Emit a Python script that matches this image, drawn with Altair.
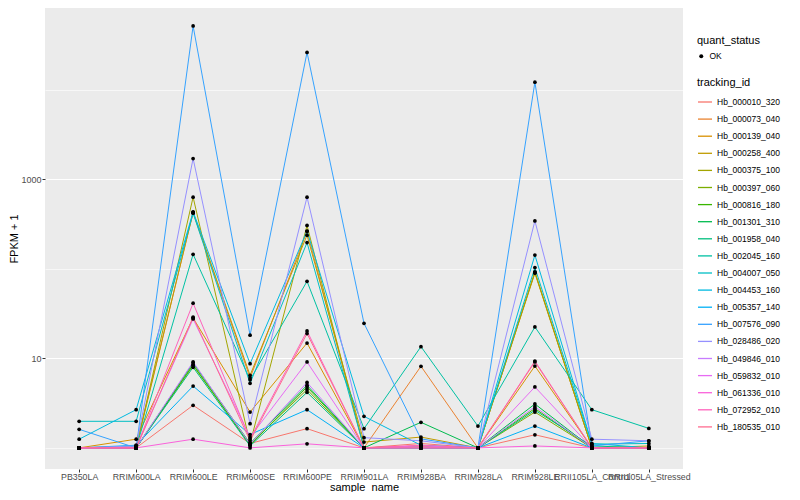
import altair as alt
import pandas as pd

samples = ["PB350LA", "RRIM600LA", "RRIM600LE", "RRIM600SE", "RRIM600PE",
           "RRIM901LA", "RRIM928BA", "RRIM928LA", "RRIM928LE",
           "RRII105LA_Control", "RRII105LA_Stressed"]

genes = ["Hb_000010_320", "Hb_000073_040", "Hb_000139_040", "Hb_000258_400",
         "Hb_000375_100", "Hb_000397_060", "Hb_000816_180", "Hb_001301_310",
         "Hb_001958_040", "Hb_002045_160", "Hb_004007_050", "Hb_004453_160",
         "Hb_005357_140", "Hb_007576_090", "Hb_028486_020", "Hb_049846_010",
         "Hb_059832_010", "Hb_061336_010", "Hb_072952_010", "Hb_180535_010"]

colors = ["#F8766D", "#EA8331", "#D89000", "#C09B00", "#A3A500", "#7CAE00",
          "#39B600", "#00BB4E", "#00BF7D", "#00C1A3", "#00BFC4", "#00BAE0",
          "#00B0F6", "#35A2FF", "#9590FF", "#C77CFF", "#E76BF3", "#FA62DB",
          "#FF62BC", "#FF6C91"]

# FPKM + 1 per sample (order as in `samples`)
hb_000010_320 = [1, 1, 2.99, 1.12, 1.64, 1, 1.12, 1, 1.40, 1, 1]
hb_000073_040 = [1, 1.05, 422, 6.03, 262, 1, 8.15, 1, 91.2, 1, 1]
hb_000139_040 = [1, 1.25, 28.2, 2.51, 14.8, 1, 1.05, 1, 8.20, 1, 1]
hb_000258_400 = [1, 1, 427, 6.46, 237, 1.16, 1.32, 1, 89.1, 1, 1.05]
hb_000375_100 = [1, 1, 630, 1.12, 304, 1, 1.05, 1, 92.3, 1, 1]
hb_000397_060 = [1, 1, 8.32, 1.10, 4.47, 1, 1, 1, 2.51, 1, 1]
hb_000816_180 = [1, 1, 8.51, 1.07, 4.79, 1, 1, 1, 2.75, 1, 1]
hb_001301_310 = [1, 1, 8.91, 1.12, 5.01, 1, 1.93, 1, 3.09, 1, 1]
hb_001958_040 = [1, 1, 7.94, 1.05, 4.17, 1, 1, 1, 2.63, 1.05, 1]
hb_002045_160 = [1, 1, 145, 5.75, 72.4, 1.64, 13.5, 1.75, 22.4, 2.67, 1.65]
hb_004007_050 = [1.98, 1.98, 417, 5.25, 196, 1, 1, 1, 103, 1.10, 1.12]
hb_004453_160 = [1.25, 2.67, 432, 8.71, 263, 2.25, 1.07, 1, 142, 1.12, 1]
hb_005357_140 = [1, 1.07, 4.90, 1.41, 2.67, 1, 1, 1, 1.75, 1, 1]
hb_007576_090 = [1.61, 1, 51300, 18.1, 26000, 24.6, 1.26, 1, 12100, 1.05, 1.20]
hb_028486_020 = [1, 1.05, 1700, 1.86, 630, 1.30, 1.20, 1, 342, 1.25, 1.20]
hb_049846_010 = [1, 1, 9.12, 1.10, 5.37, 1, 1, 1, 2.88, 1, 1]
hb_059832_010 = [1, 1, 27.5, 1.32, 9.10, 1, 1.05, 1, 4.79, 1, 1]
hb_061336_010 = [1, 1, 1.25, 1, 1.11, 1, 1, 1, 1.05, 1, 1]
hb_072952_010 = [1, 1, 41.2, 1.26, 20.2, 1, 1.07, 1, 9.33, 1, 1]
hb_180535_010 = [1, 1, 28.8, 1.20, 18.9, 1, 1, 1, 9.12, 1, 1]

series = [hb_000010_320, hb_000073_040, hb_000139_040, hb_000258_400,
          hb_000375_100, hb_000397_060, hb_000816_180, hb_001301_310,
          hb_001958_040, hb_002045_160, hb_004007_050, hb_004453_160,
          hb_005357_140, hb_007576_090, hb_028486_020, hb_049846_010,
          hb_059832_010, hb_061336_010, hb_072952_010, hb_180535_010]

y_ticks = [1, 10, 100, 1000, 10000]

rows = []
for g, vals in zip(genes, series):
    for s, v in zip(samples, vals):
        rows.append({"tracking_id": g, "sample_name": s, "fpkm1": v,
                     "quant_status": "OK"})
df = pd.DataFrame(rows)

FONT = "Liberation Sans"
major_test = "datum.value == 10 || datum.value == 1000"

x_enc = alt.X("sample_name:N", sort=samples,
              scale=alt.Scale(type="point", padding=0.6),
              axis=alt.Axis(title="sample_name", labelAngle=0, labelOverlap=False,
                            labelPadding=0, labelFontSize=8.8,
                            titleY=21, titleBaseline="alphabetic"))
y_enc = alt.Y("fpkm1:Q",
              scale=alt.Scale(type="log", domain=[0.581, 81470], nice=False),
              axis=alt.Axis(title="FPKM + 1", values=y_ticks, format="d",
                            labelExpr="datum.value == 10 || datum.value == 1000 ? datum.label : ''",
                            tickOpacity={"condition": {"test": major_test, "value": 1}, "value": 0},
                            gridWidth={"condition": {"test": major_test, "value": 1.1}, "value": 0.6},
                            labelPadding=1, titlePadding=1))

lines = alt.Chart(df).mark_line(strokeWidth=1).encode(
    x=x_enc, y=y_enc,
    color=alt.Color("tracking_id:N", scale=alt.Scale(domain=genes, range=colors),
                    legend=alt.Legend(title="tracking_id", orient="none",
                                      legendX=652, legendY=69,
                                      symbolType="stroke", symbolSize=196,
                                      symbolStrokeWidth=1.3, rowPadding=4.1,
                                      labelFontSize=8.5, titleFontSize=11,
                                      titleFontWeight="normal", titlePadding=6)),
)

points = alt.Chart(df).mark_point(filled=True, color="black", size=14, opacity=1).encode(
    x=x_enc, y=y_enc,
    shape=alt.Shape("quant_status:N", scale=alt.Scale(range=["circle"]),
                    legend=alt.Legend(title="quant_status", orient="none",
                                      legendX=652, legendY=27,
                                      symbolSize=16, symbolFillColor="black",
                                      symbolStrokeColor="black",
                                      labelFontSize=8.5, titleFontSize=11,
                                      titleFontWeight="normal", titlePadding=6)),
)

chart = alt.layer(lines, points).properties(
    width=638, height=461,
    autosize=alt.AutoSizeParams(type="none"),
    padding={"left": 37, "top": 0, "right": 109, "bottom": 23},
).configure(
    font=FONT
).configure_view(
    fill="#EBEBEB", strokeWidth=0
).configure_axis(
    domain=False, tickColor="#333333", tickSize=3, gridColor="#FFFFFF",
    gridWidth=1.1, labelColor="#4D4D4D", labelFont=FONT, labelFontSize=9,
    titleFont=FONT, titleFontSize=11, titleFontWeight="normal", titleColor="#000000",
).configure_legend(
    labelFont=FONT, titleFont=FONT, titleFontWeight="normal",
    titleColor="#000000", labelColor="#000000",
)

chart.save("out.html", embed_options={"renderer": "svg", "actions": False})
